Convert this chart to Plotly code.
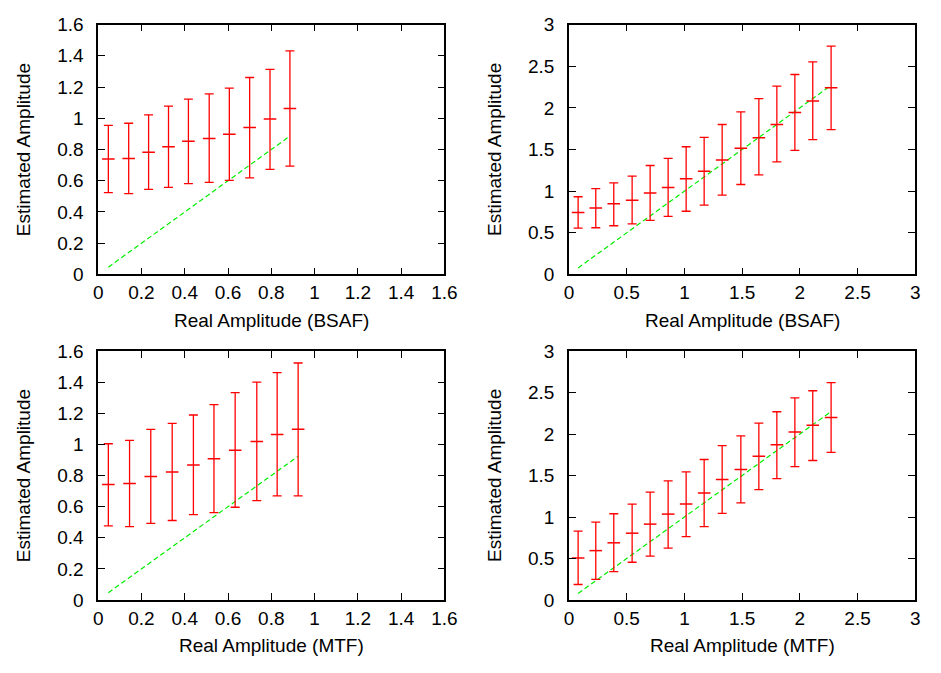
import plotly.graph_objects as go

# ---------------- data ----------------
# Panel 1: BSAF, small amplitudes
bsaf1_x = [0.047, 0.141, 0.233, 0.325, 0.417, 0.513, 0.606, 0.700, 0.794, 0.886]
bsaf1_y = [0.739, 0.743, 0.782, 0.818, 0.853, 0.871, 0.898, 0.941, 0.995, 1.063]
bsaf1_hi = [0.954, 0.968, 1.022, 1.078, 1.123, 1.156, 1.193, 1.261, 1.313, 1.431]
bsaf1_lo = [0.524, 0.518, 0.545, 0.557, 0.582, 0.590, 0.603, 0.619, 0.673, 0.694]

# Panel 2: BSAF, large amplitudes
bsaf2_x = [0.079, 0.232, 0.388, 0.547, 0.703, 0.859, 1.015, 1.171, 1.327, 1.489,
           1.645, 1.801, 1.957, 2.112, 2.271]
bsaf2_y = [0.743, 0.797, 0.848, 0.890, 0.979, 1.045, 1.150, 1.239, 1.374, 1.514,
           1.641, 1.800, 1.943, 2.083, 2.241]
bsaf2_hi = [0.933, 1.030, 1.099, 1.181, 1.308, 1.394, 1.533, 1.645, 1.800, 1.951,
            2.110, 2.261, 2.400, 2.551, 2.741]
bsaf2_lo = [0.557, 0.561, 0.585, 0.608, 0.650, 0.697, 0.759, 0.832, 0.952, 1.080,
            1.196, 1.351, 1.490, 1.618, 1.738]

# Panel 3: MTF, small amplitudes
mtf1_x = [0.047, 0.145, 0.243, 0.342, 0.440, 0.535, 0.633, 0.733, 0.827, 0.924]
mtf1_y = [0.742, 0.748, 0.794, 0.823, 0.867, 0.908, 0.962, 1.018, 1.064, 1.097]
mtf1_hi = [1.004, 1.026, 1.097, 1.135, 1.189, 1.255, 1.332, 1.400, 1.461, 1.523]
mtf1_lo = [0.476, 0.472, 0.492, 0.511, 0.549, 0.561, 0.596, 0.638, 0.669, 0.669]

# Panel 4: MTF, large amplitudes
mtf2_x = [0.079, 0.232, 0.388, 0.547, 0.703, 0.859, 1.015, 1.171, 1.327, 1.489,
          1.645, 1.801, 1.957, 2.112, 2.271]
mtf2_y = [0.506, 0.595, 0.689, 0.805, 0.914, 1.035, 1.156, 1.288, 1.451, 1.572,
          1.732, 1.872, 2.023, 2.105, 2.198]
mtf2_hi = [0.829, 0.938, 1.039, 1.156, 1.300, 1.436, 1.545, 1.693, 1.860, 1.977,
           2.132, 2.268, 2.436, 2.521, 2.619]
mtf2_lo = [0.187, 0.249, 0.342, 0.455, 0.529, 0.626, 0.763, 0.883, 1.043, 1.171,
           1.331, 1.463, 1.607, 1.681, 1.778]

x_titles = ["Real Amplitude (BSAF)", "Real Amplitude (BSAF)",
            "Real Amplitude (MTF)", "Real Amplitude (MTF)"]
y_title = "Estimated Amplitude"
ranges = [1.6, 3, 1.6, 3]
dticks = [0.2, 0.5, 0.2, 0.5]

panels = [
    (bsaf1_x, bsaf1_y, bsaf1_hi, bsaf1_lo),
    (bsaf2_x, bsaf2_y, bsaf2_hi, bsaf2_lo),
    (mtf1_x, mtf1_y, mtf1_hi, mtf1_lo),
    (mtf2_x, mtf2_y, mtf2_hi, mtf2_lo),
]

# ---------------- layout geometry ----------------
W, H = 941, 673
px_x = [(95, 448), (575, 928), (95, 448), (575, 928)]
px_y = [(15, 273), (15, 273), (352, 609), (352, 609)]

FONT = "Liberation Sans, Arial, Helvetica, sans-serif"
FS = 19
RED = "#ff0000"
GREEN = "#00ee00"

fig = go.Figure()
layout = dict(
    width=W, height=H,
    margin=dict(l=0, r=0, t=0, b=0),
    paper_bgcolor="white", plot_bgcolor="white",
    showlegend=False,
    font=dict(family=FONT, size=FS, color="black"),
    annotations=[],
)

for i, (xs, ys, hi, lo) in enumerate(panels):
    n = i + 1
    xa = "x" if n == 1 else f"x{n}"
    ya = "y" if n == 1 else f"y{n}"
    plus = [h - y for h, y in zip(hi, ys)]
    minus = [y - l for y, l in zip(ys, lo)]
    # ideal line y = x
    fig.add_trace(go.Scatter(
        x=xs, y=xs, mode="lines", xaxis=xa, yaxis=ya,
        line=dict(color=GREEN, width=1.2, dash="5px,3px"),
        hoverinfo="skip"))
    fig.add_trace(go.Scatter(
        x=xs, y=ys, mode="markers", xaxis=xa, yaxis=ya,
        marker=dict(symbol="line-ew", size=9, color=RED,
                    line=dict(color=RED, width=1.5)),
        error_y=dict(type="data", array=plus, arrayminus=minus,
                     color=RED, thickness=1.3, width=4.5, visible=True)))

    x0, x1 = px_x[i]
    y0, y1 = px_y[i]
    xdom = [x0 / W, x1 / W]
    ydom = [1 - y1 / H, 1 - y0 / H]
    common = dict(
        showline=True, linecolor="black", linewidth=1.5, mirror="ticks",
        ticks="inside", ticklen=7, tickwidth=1.2, tickcolor="black",
        showgrid=False, zeroline=False,
        tick0=0, dtick=dticks[i], range=[0, ranges[i]],
        tickfont=dict(family=FONT, size=FS, color="black"),
    )
    layout["xaxis" if n == 1 else f"xaxis{n}"] = dict(
        common, domain=xdom, anchor=ya, ticklabelstandoff=0)
    layout["yaxis" if n == 1 else f"yaxis{n}"] = dict(
        common, domain=ydom, anchor=xa, ticklabelstandoff=9)

    # axis titles
    layout["annotations"].append(dict(
        text=x_titles[i], xref="paper", yref="paper",
        x=(x0 + x1) / 2 / W, y=1 - (y1 + 47) / H,
        xanchor="center", yanchor="middle", showarrow=False,
        font=dict(family=FONT, size=FS, color="black")))
    layout["annotations"].append(dict(
        text=y_title, xref="paper", yref="paper",
        x=(x0 - 76) / W, y=1 - (y0 + y1) / 2 / H, textangle=-90,
        xanchor="center", yanchor="middle", showarrow=False,
        font=dict(family=FONT, size=FS, color="black")))

fig.update_layout(**layout)
fig.write_html("out.html")
